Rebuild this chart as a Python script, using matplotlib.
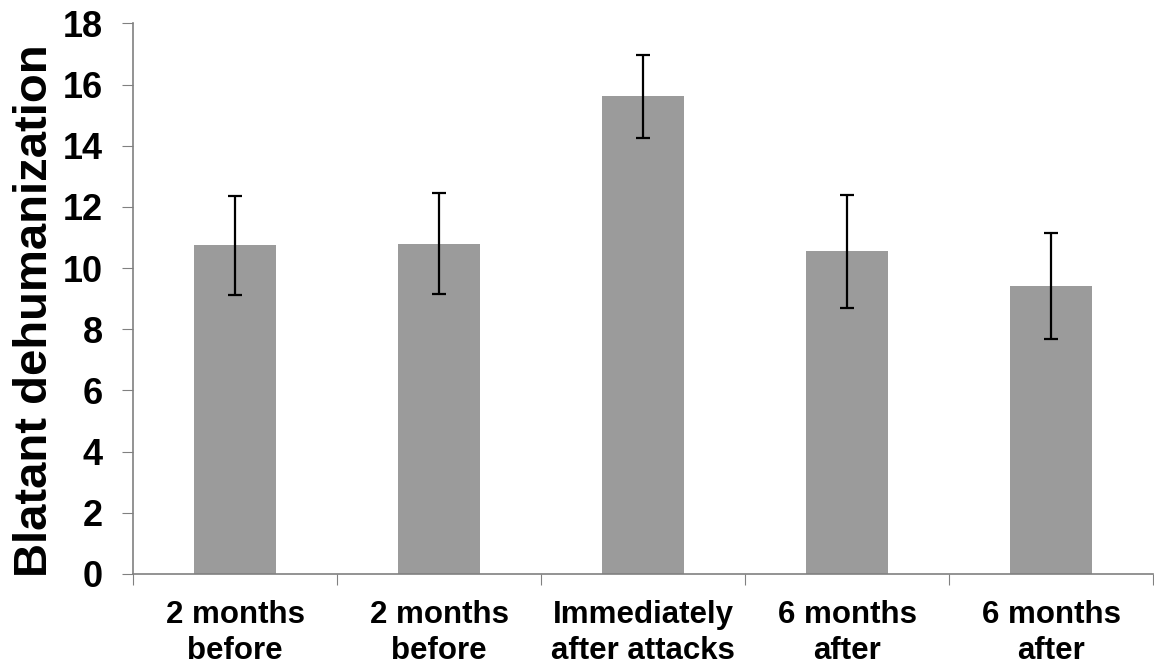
import matplotlib
matplotlib.use("Agg")
import matplotlib.pyplot as plt
import numpy as np

# data
categories = ["2 months\nbefore", "2 months\nbefore", "Immediately\nafter attacks",
              "6 months\nafter", "6 months\nafter"]
means = [10.75, 10.8, 15.62, 10.55, 9.41]
errors = [1.62, 1.65, 1.36, 1.85, 1.73]
yticks = [0, 2, 4, 6, 8, 10, 12, 14, 16, 18]

plt.rcParams['font.family'] = ['Liberation Sans', 'DejaVu Sans']
plt.rcParams['font.weight'] = 'bold'

fig = plt.figure(figsize=(11.54, 6.70), dpi=100)
ax = fig.add_axes([0.1153, 0.1433, 0.884, 0.8218])

x = np.arange(len(categories))
ax.bar(x, means, width=0.4, color='#9b9b9b', zorder=2)
ax.errorbar(x, means, yerr=errors, fmt='none', ecolor='black',
            elinewidth=1.6, capsize=5, capthick=1.6, zorder=3)

ax.set_xlim(-0.5, len(categories) - 0.5)
ax.set_ylim(0, 18)
ax.set_yticks(yticks)
ax.set_yticklabels([str(t) for t in yticks], fontsize=26, fontweight='bold')

# tick marks between categories, labels at the centres
ax.set_xticks(np.arange(len(categories) + 1) - 0.5)
ax.set_xticklabels([])
ax.set_xticks(x, minor=True)
ax.set_xticklabels(categories, minor=True, fontsize=22.5, fontweight='bold',
                   linespacing=1.25)
ax.tick_params(axis='x', which='minor', length=0, pad=19)
ax.tick_params(axis='x', which='major', length=8, color='#808080', direction='out')
ax.tick_params(axis='y', length=8, color='#808080', direction='out', pad=14)

for side in ['top', 'right']:
    ax.spines[side].set_visible(False)
for side in ['left', 'bottom']:
    ax.spines[side].set_color('#808080')
    ax.spines[side].set_linewidth(1.2)

ax.set_ylabel('Blatant dehumanization', fontsize=34, fontweight='bold')
ax.yaxis.set_label_coords(-0.075, 0.478)

fig.savefig('out.png', dpi=100)
